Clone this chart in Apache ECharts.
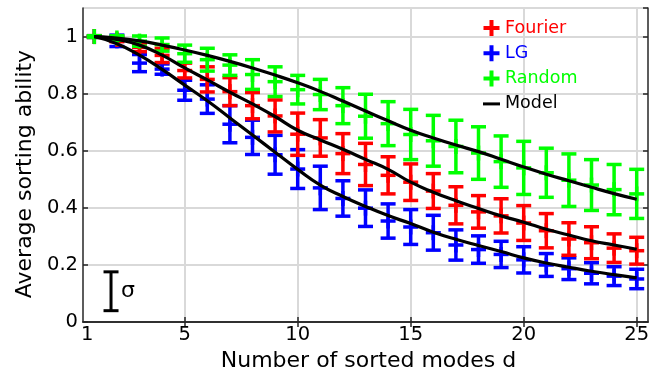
<!DOCTYPE html>
<html>
<head>
<meta charset="utf-8">
<script src="https://cdn.jsdelivr.net/npm/echarts@6/dist/echarts.min.js"></script>
<style>
  html, body { margin: 0; padding: 0; background: #fff; }
  #chart { width: 672px; height: 377px; }
</style>
</head>
<body>
<div id="chart"></div>
<script>
// number of sorted modes d
const modes = [1, 2, 3, 4, 5, 6, 7, 8, 9, 10, 11, 12, 13, 14, 15, 16, 17, 18, 19, 20, 21, 22, 23, 24, 25];

const fourierMean = [1.0, 0.99, 0.962, 0.934, 0.881, 0.850, 0.807, 0.758, 0.722, 0.658, 0.645, 0.590, 0.552, 0.514, 0.490, 0.459, 0.409, 0.386, 0.372, 0.347, 0.320, 0.291, 0.278, 0.259, 0.250];
const fourierErr = [0.003, 0.008, 0.015, 0.025, 0.026, 0.044, 0.049, 0.046, 0.056, 0.074, 0.064, 0.070, 0.074, 0.065, 0.064, 0.061, 0.065, 0.057, 0.060, 0.061, 0.060, 0.057, 0.056, 0.050, 0.047];

const lgMean = [1.0, 0.985, 0.907, 0.886, 0.812, 0.781, 0.693, 0.647, 0.586, 0.536, 0.470, 0.433, 0.399, 0.354, 0.333, 0.313, 0.270, 0.254, 0.237, 0.218, 0.200, 0.187, 0.171, 0.161, 0.151];
const lgErr = [0.003, 0.02, 0.030, 0.018, 0.035, 0.050, 0.065, 0.060, 0.068, 0.068, 0.076, 0.062, 0.064, 0.060, 0.061, 0.061, 0.053, 0.048, 0.046, 0.046, 0.040, 0.038, 0.037, 0.033, 0.034];

const randomMean = [1.0, 0.995, 0.984, 0.972, 0.940, 0.919, 0.900, 0.867, 0.842, 0.814, 0.797, 0.758, 0.721, 0.695, 0.657, 0.635, 0.615, 0.592, 0.562, 0.540, 0.523, 0.497, 0.480, 0.464, 0.449];
const randomErr = [0.003, 0.008, 0.018, 0.023, 0.030, 0.040, 0.036, 0.052, 0.052, 0.050, 0.053, 0.063, 0.077, 0.077, 0.088, 0.089, 0.092, 0.092, 0.090, 0.093, 0.086, 0.092, 0.089, 0.088, 0.086];

// model curves
const modelFourier = [1.0, 0.99, 0.97, 0.935, 0.89, 0.848, 0.805, 0.764, 0.72, 0.672, 0.638, 0.605, 0.57, 0.535, 0.49, 0.455, 0.425, 0.398, 0.372, 0.35, 0.325, 0.305, 0.285, 0.27, 0.255];
const modelLG = [1.0, 0.975, 0.935, 0.885, 0.83, 0.775, 0.715, 0.655, 0.595, 0.535, 0.48, 0.44, 0.405, 0.373, 0.345, 0.315, 0.29, 0.268, 0.247, 0.225, 0.207, 0.192, 0.178, 0.166, 0.155];
const modelRandom = [1.0, 0.995, 0.985, 0.97, 0.953, 0.934, 0.913, 0.89, 0.865, 0.838, 0.808, 0.774, 0.739, 0.705, 0.672, 0.645, 0.62, 0.597, 0.57, 0.543, 0.518, 0.495, 0.472, 0.45, 0.43];

// sigma scale bar: [x, centre, half length]
const sigmaBar = [[1.74, 0.108, 0.068]];

const xTicks = [5, 10, 15, 20, 25];
const xLabels = [1, 5, 10, 15, 20, 25];

const FONT = 'DejaVu Sans';
const plusIcon = 'path://M6,0H10V6H16V10H10V16H6V10H0V6H6Z';
const lineIcon = 'path://M0,0H17V3H0Z';

function lineEl(x1, y1, x2, y2, color, w) {
  return {type: 'line', shape: {x1, y1, x2, y2}, style: {stroke: color, lineWidth: w, fill: null}};
}

function errorBars(color) {
  return function (params, api) {
    const x = api.value(0), m = api.value(1), e = api.value(2);
    const c = api.coord([x, m]);
    const hi = api.coord([x, m + e])[1];
    const lo = api.coord([x, m - e])[1];
    const cap = 7.5, arm = 7.5, w = 3.5;
    return {
      type: 'group',
      children: [
        lineEl(c[0], hi, c[0], lo, color, w),
        lineEl(c[0] - cap, hi, c[0] + cap, hi, color, w),
        lineEl(c[0] - cap, lo, c[0] + cap, lo, color, w),
        lineEl(c[0] - arm, c[1], c[0] + arm, c[1], color, w),
        lineEl(c[0], c[1] - arm, c[0], c[1] + arm, color, w)
      ]
    };
  };
}

function sigmaItem(params, api) {
  const x = api.value(0), m = api.value(1), e = api.value(2);
  const c = api.coord([x, m]);
  const hi = api.coord([x, m + e])[1];
  const lo = api.coord([x, m - e])[1];
  return {
    type: 'group',
    children: [
      lineEl(c[0], hi, c[0], lo, '#000', 3),
      lineEl(c[0] - 7.5, hi, c[0] + 7.5, hi, '#000', 3),
      lineEl(c[0] - 7.5, lo, c[0] + 7.5, lo, '#000', 3),
      {type: 'text', style: {text: 'σ', x: c[0] + 10, y: c[1], verticalAlign: 'middle',
        font: '22px "' + FONT + '"', fill: '#000'}}
    ]
  };
}

const errData = (mean, err) => modes.map((d, i) => [d, mean[i], err[i]]);
const lineData = (vals) => modes.map((d, i) => [d, vals[i]]);

const axisColor = '#262626';
const gridColor = '#d9d9d9';

const option = {
  animation: false,
  grid: {left: 83, right: 24, top: 8, bottom: 50},
  legend: {
    orient: 'vertical',
    left: 478,
    top: 14,
    itemWidth: 17,
    itemHeight: 16,
    itemGap: 7.3,
    textStyle: {fontFamily: FONT, fontSize: 17.5},
    data: [
      {name: 'Fourier', icon: plusIcon, textStyle: {color: '#ff0000'}},
      {name: 'LG', icon: plusIcon, textStyle: {color: '#0000ff'}},
      {name: 'Random', icon: plusIcon, textStyle: {color: '#00ff00'}},
      {name: 'Model', icon: lineIcon, itemStyle: {color: '#000'}, textStyle: {color: '#000'}}
    ]
  },
  xAxis: [{
    type: 'value',
    min: 0.5,
    max: 25.5,
    name: 'Number of sorted modes d',
    nameLocation: 'middle',
    nameGap: 21,
    nameTextStyle: {fontFamily: FONT, fontSize: 22, color: '#000', padding: [0, 0, 0, 6]},
    axisLine: {lineStyle: {color: axisColor, width: 1.5}},
    axisTick: {inside: true, length: 5, customValues: xTicks, lineStyle: {color: axisColor, width: 1.5}},
    axisLabel: {
      customValues: xLabels, fontFamily: FONT, fontSize: 19.5, color: '#000', margin: 3,
      formatter: v => (v === 1 ? '{l|1}' : String(v)),
      rich: {l: {fontFamily: FONT, fontSize: 19.5, color: '#000', padding: [0, 14, 0, 0]}}
    },
    splitLine: {show: true, lineStyle: {color: gridColor, width: 2}}
  }, {
    type: 'value',
    position: 'top',
    min: 0.5,
    max: 25.5,
    axisLine: {show: true, lineStyle: {color: axisColor, width: 1.5}},
    axisTick: {inside: true, length: 5, customValues: xTicks, lineStyle: {color: axisColor, width: 1.5}},
    axisLabel: {show: false},
    splitLine: {show: false}
  }],
  yAxis: [{
    type: 'value',
    min: 0,
    max: 1.1,
    interval: 0.2,
    name: 'Average sorting ability',
    nameLocation: 'middle',
    nameGap: 42,
    nameTextStyle: {fontFamily: FONT, fontSize: 22, color: '#000', padding: [0, 18, 0, 0]},
    axisLine: {show: true, lineStyle: {color: axisColor, width: 1.5}},
    axisTick: {show: true, inside: true, length: 5, lineStyle: {color: axisColor, width: 1.5}},
    axisLabel: {fontFamily: FONT, fontSize: 19.5, color: '#000', margin: 5, showMaxLabel: false},
    splitLine: {show: true, lineStyle: {color: gridColor, width: 2}}
  }, {
    type: 'value',
    position: 'right',
    min: 0,
    max: 1.1,
    interval: 0.2,
    axisLine: {show: true, lineStyle: {color: axisColor, width: 1.5}},
    axisTick: {show: true, inside: true, length: 5, lineStyle: {color: axisColor, width: 1.5}},
    axisLabel: {show: false},
    splitLine: {show: false}
  }],
  series: [
    {name: 'LG', type: 'custom', color: '#0000ff', renderItem: errorBars('#0000ff'),
      data: errData(lgMean, lgErr), encode: {x: 0, y: 1}, clip: false},
    {name: 'Fourier', type: 'custom', color: '#ff0000', renderItem: errorBars('#ff0000'),
      data: errData(fourierMean, fourierErr), encode: {x: 0, y: 1}, clip: false},
    {name: 'Random', type: 'custom', color: '#00ff00', renderItem: errorBars('#00ff00'),
      data: errData(randomMean, randomErr), encode: {x: 0, y: 1}, clip: false},
    {name: 'Model', type: 'line', smooth: true, symbol: 'none', color: '#000',
      lineStyle: {width: 3.2, color: '#000'}, data: lineData(modelLG)},
    {name: 'Model', type: 'line', smooth: true, symbol: 'none', color: '#000',
      lineStyle: {width: 3.2, color: '#000'}, data: lineData(modelFourier)},
    {name: 'Model', type: 'line', smooth: true, symbol: 'none', color: '#000',
      lineStyle: {width: 3.2, color: '#000'}, data: lineData(modelRandom)},
    {name: 'sigma', type: 'custom', renderItem: sigmaItem, data: sigmaBar,
      encode: {x: 0, y: 1}, clip: false}
  ]
};

const myChart = echarts.init(document.getElementById('chart'));
myChart.setOption(option);
</script>
</body>
</html>
